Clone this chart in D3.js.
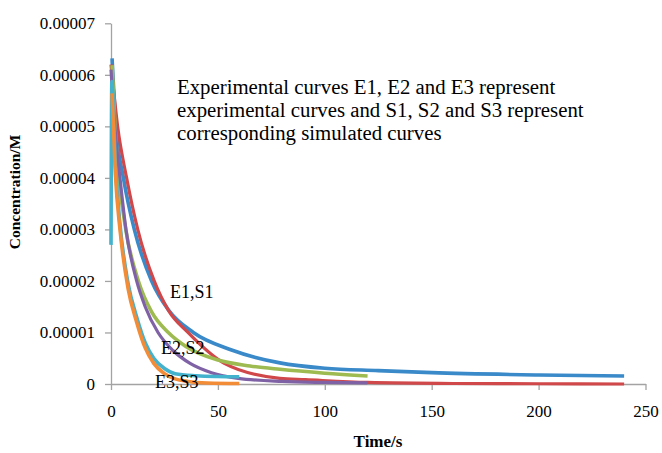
<!DOCTYPE html>
<html>
<head>
<meta charset="utf-8">
<script src="https://cdn.jsdelivr.net/npm/d3@7"></script>
<style>
  html, body { margin: 0; padding: 0; background: #fff; }
  svg text { font-family: "Liberation Serif", "Times New Roman", serif; fill: #000; }
</style>
</head>
<body>
<div id="chart"></div>
<script>
/* Concentration decay curves: experimental (E) vs simulated (S) */

// axis ticks
const xTicks = [0, 50, 100, 150, 200, 250];
const yTicks = [0, 0.00001, 0.00002, 0.00003, 0.00004, 0.00005, 0.00006, 0.00007];
const yTickLabels = ["0", "0.00001", "0.00002", "0.00003", "0.00004", "0.00005", "0.00006", "0.00007"];

// E1 experimental (blue)
const e1Time = [0.5, 2.3, 5.8, 10.9, 19, 26.8, 38.5, 56.4, 79, 100, 125, 150, 200, 240];
const e1Conc = [6.32e-5, 5.0e-5, 4.0e-5, 3.0e-5, 2.0e-5, 1.44e-5, 1.0e-5, 6.6e-6, 4.1e-6, 3.05e-6, 2.6e-6, 2.2e-6, 1.75e-6, 1.55e-6];

// S1 simulated (red)
const s1Time = [0, 3.1, 7.3, 12.5, 20.2, 27, 36, 53, 79, 91, 120, 160, 200, 240];
const s1Conc = [6.2e-5, 5.0e-5, 4.0e-5, 3.0e-5, 2.0e-5, 1.42e-5, 1.0e-5, 4.0e-6, 1.1e-6, 0.85e-6, 0.3e-6, 0.1e-6, 0.05e-6, 0];

// E2 experimental (green)
const e2Time = [0.5, 1.9, 3.7, 6.9, 12.8, 19, 26.8, 35, 50, 65, 79, 100, 120];
const e2Conc = [6.19e-5, 5.0e-5, 4.0e-5, 3.0e-5, 2.0e-5, 1.4e-5, 1.0e-5, 7.3e-6, 4.66e-6, 3.5e-6, 2.85e-6, 2.1e-6, 1.55e-6];

// S2 simulated (purple)
const s2Time = [0, 2, 4.2, 7, 12, 16, 22, 29, 37, 47, 59.5, 80, 100, 120];
const s2Conc = [6.1e-5, 4.9e-5, 4.0e-5, 3.0e-5, 2.0e-5, 1.5e-5, 1.0e-5, 6.5e-6, 4.0e-6, 2.2e-6, 1.1e-6, 0.5e-6, 0.3e-6, 0.2e-6];

// E3 experimental (cyan)
const e3Time = [0, 0.4, 2, 4.2, 8, 12, 16, 20, 25, 30, 40, 50, 60];
const e3Conc = [2.7e-5, 5.87e-5, 4.3e-5, 3.1e-5, 1.95e-5, 1.3e-5, 8.0e-6, 5.0e-6, 3.0e-6, 2.0e-6, 1.6e-6, 1.45e-6, 1.4e-6];

// S3 simulated (orange)
const s3Time = [0.5, 2, 4.2, 8, 12, 16, 20, 25, 30, 36, 45, 60];
const s3Conc = [5.64e-5, 4.1e-5, 3.0e-5, 1.85e-5, 1.2e-5, 7.0e-6, 4.0e-6, 2.0e-6, 1.0e-6, 0.5e-6, 0.2e-6, 0.1e-6];

const seriesNames = ["E1", "S1", "E2", "S2", "E3", "S3"];
const seriesTimes = [e1Time, s1Time, e2Time, s2Time, e3Time, s3Time];
const seriesConcs = [e1Conc, s1Conc, e2Conc, s2Conc, e3Conc, s3Conc];
const seriesColors = ["#3a89c9", "#d0484a", "#9dbb50", "#7f62a6", "#43b2cd", "#f28c36"];
const seriesWidths = [3.6, 3.2, 3.6, 3.2, 3.6, 3.6];

const noteLines = [
    "Experimental curves E1, E2 and E3 represent",
    "experimental curves and S1, S2 and S3 represent",
    "corresponding simulated curves"
];
const curveLabels = ["E1,S1", "E2,S2", "E3,S3"];

const width = 662;
const height = 453;

const svg = d3.select("#chart").append("svg")
    .attr("width", width)
    .attr("height", height)
    .style("background", "#fff");

const x = d3.scaleLinear().domain([0, 250]).range([111, 645.5]);
const y = d3.scaleLinear().domain([0, 0.00007]).range([384, 23.3]);

// Axes
const axisColor = "#a3a3a3";

const yAxis = svg.append("g")
    .attr("transform", `translate(${x(0)},0)`)
    .call(d3.axisLeft(y)
        .tickValues(yTicks)
        .tickFormat((d, i) => yTickLabels[i])
        .tickSize(6)
        .tickSizeOuter(0)
        .tickPadding(10));

const xAxis = svg.append("g")
    .attr("transform", `translate(0,${y(0)})`)
    .call(d3.axisBottom(x)
        .tickValues(xTicks)
        .tickSize(6)
        .tickSizeOuter(0)
        .tickPadding(15));

[xAxis, yAxis].forEach(g => {
    g.select(".domain").attr("stroke", axisColor).attr("stroke-width", 1.3);
    g.selectAll(".tick line").attr("stroke", axisColor).attr("stroke-width", 1.3);
    g.selectAll(".tick text")
        .style("font-family", "'Liberation Serif', serif")
        .style("font-size", "17px")
        .attr("fill", "#000");
});

// Curves
const line = d3.line()
    .x(d => x(d[0]))
    .y(d => y(d[1]))
    .curve(d3.curveMonotoneX);

seriesNames.forEach((name, i) => {
    const pts = seriesTimes[i].map((t, j) => [t, seriesConcs[i][j]]);
    svg.append("path")
        .attr("class", "curve curve-" + name)
        .attr("d", line(pts))
        .attr("fill", "none")
        .attr("stroke", seriesColors[i])
        .attr("stroke-width", seriesWidths[i])
        .attr("stroke-linejoin", "round");
});

// Axis titles
svg.append("text")
    .attr("x", 378)
    .attr("y", 447)
    .attr("text-anchor", "middle")
    .style("font-size", "17px")
    .style("font-weight", "bold")
    .text("Time/s");

svg.append("text")
    .attr("transform", "translate(20,192) rotate(-90)")
    .attr("text-anchor", "middle")
    .style("font-size", "15.5px")
    .style("font-weight", "bold")
    .text("Concentration/M");

// Annotation note
svg.append("g")
    .selectAll("text")
    .data(noteLines)
    .enter()
    .append("text")
    .attr("x", 177)
    .attr("y", (d, i) => 93.5 + i * 23.3)
    .style("font-size", "20.8px")
    .text(d => d);

// Curve pair labels
const labelX = [170, 161, 155];
const labelY = [298, 354, 388];
svg.append("g")
    .selectAll("text")
    .data(curveLabels)
    .enter()
    .append("text")
    .attr("x", (d, i) => labelX[i])
    .attr("y", (d, i) => labelY[i])
    .style("font-size", "18px")
    .text(d => d);
</script>
</body>
</html>
